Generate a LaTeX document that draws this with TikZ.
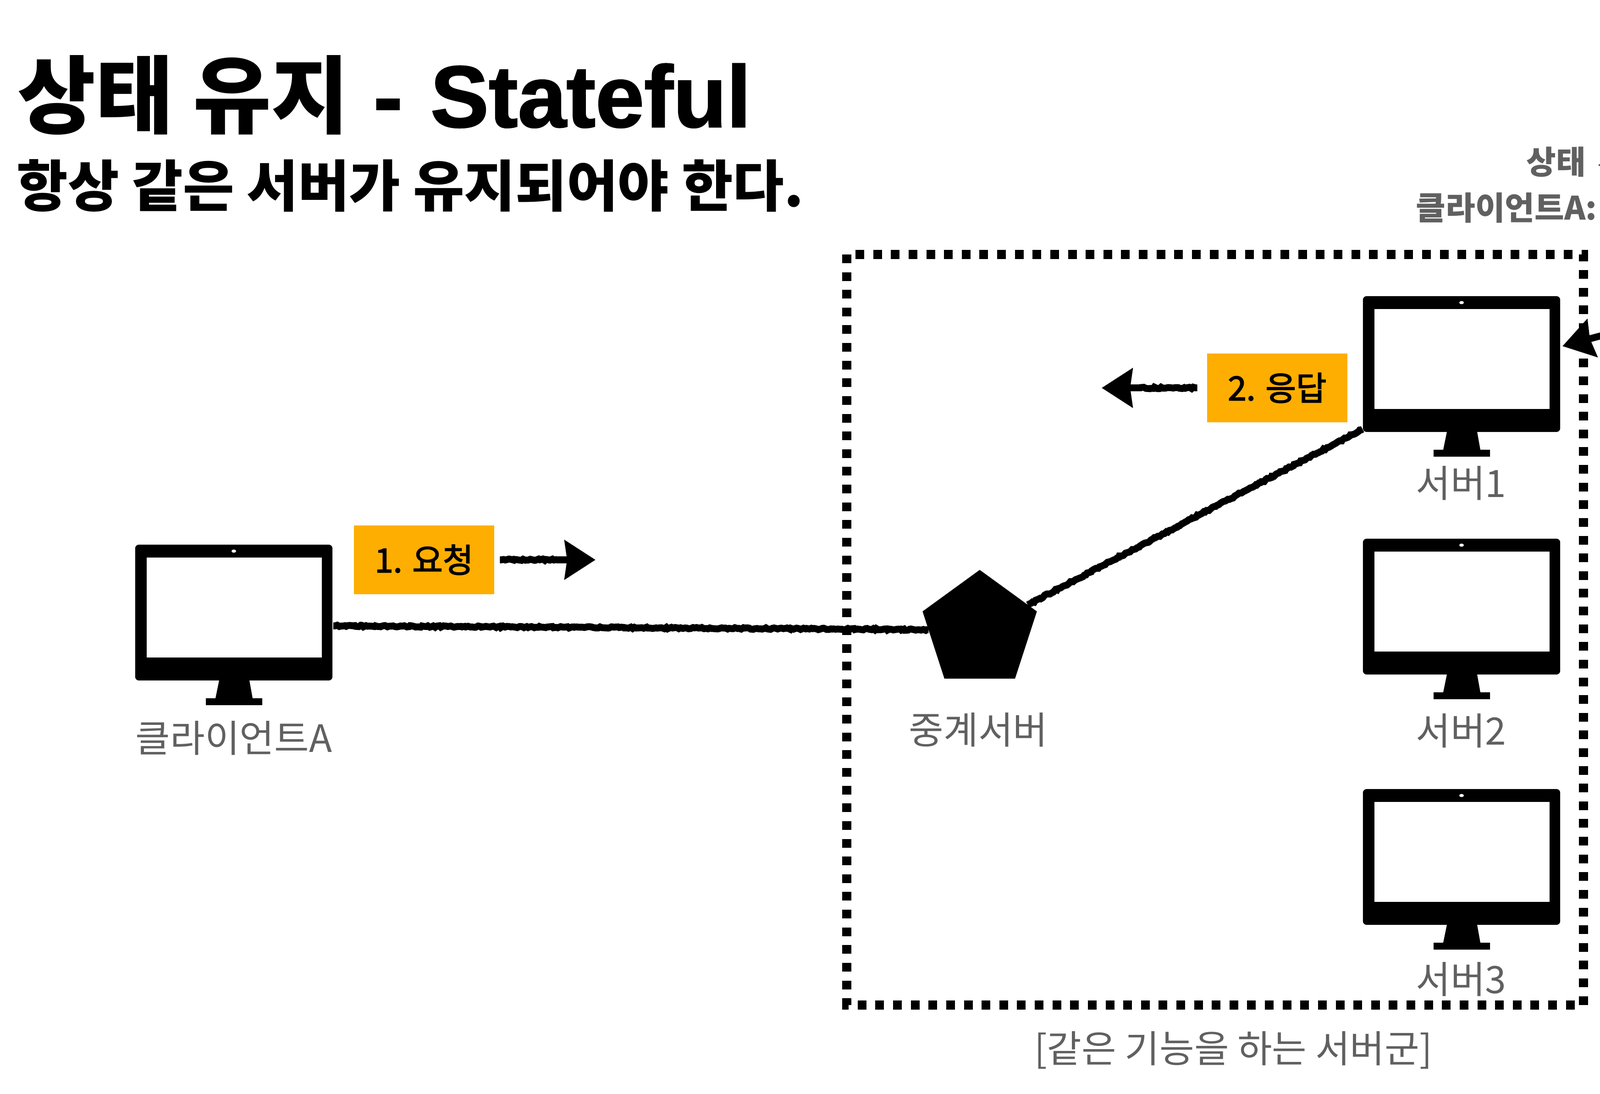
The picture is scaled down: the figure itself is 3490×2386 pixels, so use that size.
\documentclass[tikz,border=0pt]{standalone}
\usepackage{fontspec}
\setmainfont{Noto Sans CJK KR}
\newfontfamily\latinfont[BoldFeatures={FakeBold=1.5}]{Liberation Sans}
\newfontfamily\tagfont[FakeBold=2.5]{Noto Sans CJK KR}
\usetikzlibrary{arrows.meta,shapes.geometric,decorations.pathmorphing}
\definecolor{tagorange}{RGB}{254,174,0}
\definecolor{labelgray}{RGB}{96,96,96}
\tikzset{
  monitorbody/.style={fill=black,rounded corners=0.08cm,minimum width=4.3cm,minimum height=2.96cm,inner sep=0pt,outer sep=0pt},
  monitor/.pic={
    \node[monitorbody] (-body) at (0,0) {};
    \fill[white] (-190,-120) rectangle (192,98);
    \fill[white] (0,-134) ellipse (5 and 3.5);
    \fill (-32,148)--(34,148)--(41,187)--(62,187)--(62,202)--(-61,202)--(-61,187)--(-40,187)--cycle;
    \coordinate (-cable) at (217,29);
    \coordinate (-uplink) at (-216,142);
    \coordinate (-side) at (220,-39);
  },
  namelabel/.style={text=labelgray,inner sep=0pt,font=\fontsize{23.4}{27}\selectfont},
  notelabel/.style={text=labelgray,inner sep=0pt,anchor=base east,font=\bfseries\fontsize{20}{24}\selectfont},
  tagbox/.style={fill=tagorange,minimum width=3.05cm,minimum height=1.5cm,inner sep=0pt,font=\tagfont\fontsize{20.6}{24}\selectfont},
  roughline/.style={line width=0.15cm,decorate,decoration={random steps,segment length=1.2pt,amplitude=0.5pt,pre=lineto,pre length=1pt,post=lineto,post length=1pt}},
  rougharrow/.style={roughline,decoration={post length=24pt},-{Stealth[length=0.67cm,width=0.84cm,inset=0.05cm]}},
  groupline/.style={line width=0.2cm,dash pattern=on 0.19cm off 0.196cm},
}
\begin{document}
\begin{tikzpicture}[x=0.01cm,y=-0.01cm]
\clip (0,0) rectangle (3490,2386);
% titles
\node[inner sep=0pt,anchor=base west,font=\bfseries\fontsize{52.6}{60}\selectfont] (title) at (38,277) {상태 유지{\latinfont\fontsize{54.2}{60}\selectfont\ - \hspace{0.08cm}Stateful}};
\node[inner sep=0pt,anchor=base west,font=\bfseries\fontsize{34.5}{40}\selectfont] (subtitle) at (36,451) {항상 같은 서버가 유지되어야 한다.};
% cut off at the page edge
\node[notelabel] (statenote) at (3460,380) {상태};
\fill[labelgray] (3487,358) rectangle (3490,362);
\node[notelabel,anchor=base west] (clientnote) at (3088,480) {클라이언트A:};
% server group
\draw[groupline] (1847,555) rectangle (3454,2192);
\node[namelabel] (grouplabel) at (2690,2290) {[같은 기능을 하는 서버군]};
% machines
\pic (clientA) at (510,1336) {monitor};
\node[namelabel] (clientAlabel) at (510,1610) {클라이언트A};
\foreach \i/\y/\ly in {1/794/1054,2/1323/1594,3/1869/2136} {
  \pic (server\i) at (3188,\y) {monitor};
  \node[namelabel] (server\i label) at (3187,\ly) {서버\i};
}
\node[regular polygon,regular polygon sides=5,fill=black,minimum size=2.62cm,inner sep=0pt,outer sep=0pt] (relay) at (2137,1374) {};
\node[namelabel] (relaylabel) at (2134,1592) {중계서버};
% connections
\draw[roughline] (clientA-cable) -- (relay);
\draw[roughline] (relay) -- (server1-uplink);
% step labels
\node[tagbox] (request) at (925,1221) {1. 요청};
\coordinate (requestend) at (1299,1221);
\draw[rougharrow] (request.east) ++(12,0) -- (requestend);
\node[tagbox] (response) at (2786,846) {2. 응답};
\coordinate (responseend) at (2403,846);
\draw[rougharrow] (response.west) ++(-21,0) -- (responseend);
\coordinate (statesource) at (3560,714);
\draw[rougharrow] (statesource) -- (server1-side);
\end{tikzpicture}
\end{document}
